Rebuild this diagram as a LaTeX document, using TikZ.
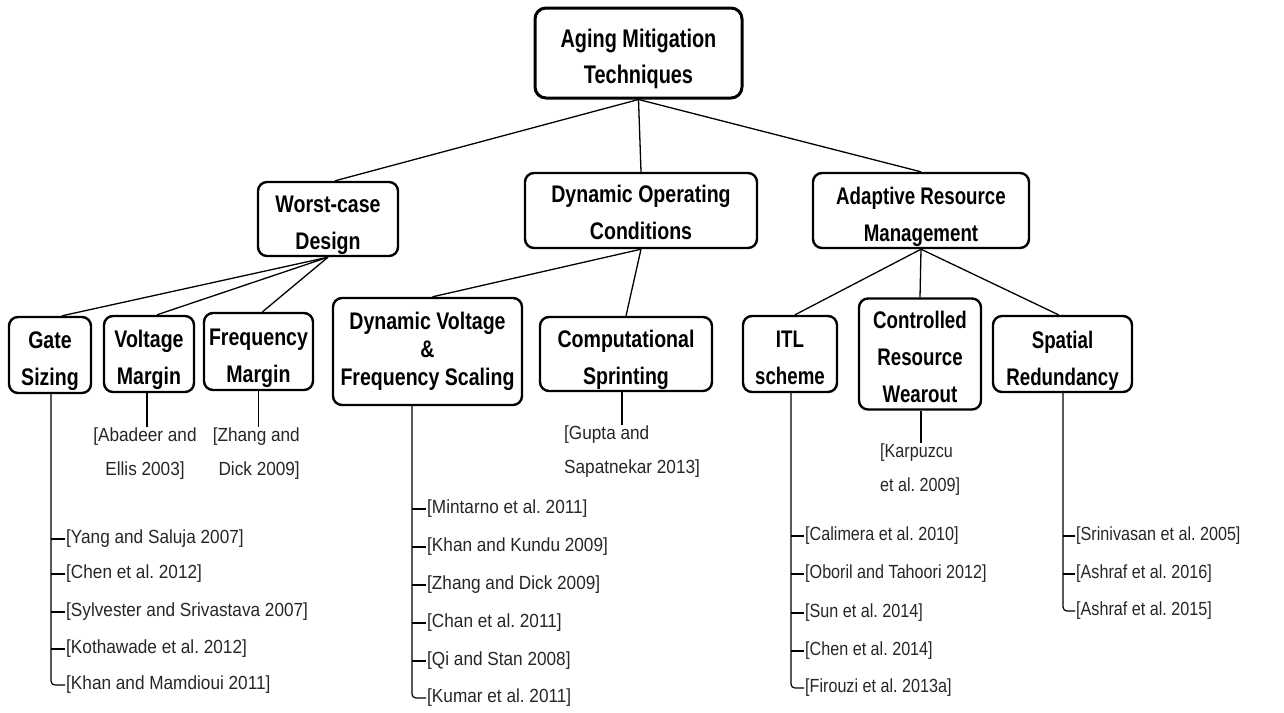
\documentclass[tikz,border=0pt]{standalone}
\usepackage{fontspec}
\setmainfont{Liberation Sans}[FakeStretch=0.815]
\newfontfamily\narrowfont{Liberation Sans}[FakeStretch=0.78]
\newfontfamily\reffont{Liberation Sans}[FakeStretch=0.905]
\newfontfamily\refnarrow{Liberation Sans}[FakeStretch=0.85]
% two-line labels sit a little low in their boxes
\newcommand{\boxlabel}[2][4.5pt]{\raisebox{-#1}[\height][\depth]{\begin{tabular}{@{}c@{}}#2\end{tabular}}}
\begin{document}
\frenchspacing
\begin{tikzpicture}[x=1pt,y=-1pt,
  box/.style={draw, line width=2.4pt, rounded corners=9pt,
    inner sep=0pt, font=\bfseries\fontsize{24}{37}\selectfont},
  boxr/.style={box, font=\narrowfont\bfseries\fontsize{24}{37}\selectfont},
  rootbox/.style={box, line width=3pt, rounded corners=11pt,
    font=\narrowfont\bfseries\fontsize{25.5}{36}\selectfont},
  link/.style={line width=1.3pt},
  leaf/.style={line width=1.2pt},
  refs/.style={font=\reffont\fontsize{19}{34}\selectfont, inner sep=1pt, text=black!85},
  refsr/.style={refs, font=\refnarrow\fontsize{19}{34}\selectfont},
  item/.style={refs, anchor=west},
  itemr/.style={refsr, anchor=west}]
\useasboundingbox (0,0) rectangle (1284,712);

% Level 1
\node[rootbox, minimum width=207, minimum height=90] (root) at (638.5,53)
  {\boxlabel[5pt]{Aging Mitigation\\Techniques}};

% Level 2
\node[box, minimum width=140, minimum height=74] (wcd) at (328,219) {\boxlabel{Worst-case\\Design}};
\node[box, minimum width=232, minimum height=75] (doc) at (641,210.5) {\boxlabel[3.5pt]{Dynamic Operating\\Conditions}};
\node[boxr, minimum width=216, minimum height=75] (arm) at (921,210.5) {\boxlabel[5pt]{Adaptive Resource\\Management}};

% Level 3
\node[box, minimum width=82, minimum height=76] (gate) at (50,355) {\boxlabel{Gate\\Sizing}};
\node[box, minimum width=90, minimum height=76] (vm) at (149,354) {\boxlabel{Voltage\\Margin}};
\node[box, minimum width=109, minimum height=77] (fm) at (258.5,351.5) {\boxlabel[5pt]{Frequency\\Margin}};
\node[box, minimum width=189, minimum height=107, font=\bfseries\fontsize{24}{28}\selectfont]
  (dvfs) at (427.5,351.5) {\boxlabel[0pt]{Dynamic Voltage\\\&\\Frequency Scaling}};
\node[box, minimum width=172, minimum height=74] (cs) at (626,354) {\boxlabel{Computational\\Sprinting}};
\node[boxr, minimum width=94, minimum height=76] (itl) at (790,354) {\boxlabel[5pt]{ITL\\scheme}};
\node[boxr, minimum width=122, minimum height=106] (crw) at (920,354) {\boxlabel[4pt]{Controlled\\Resource\\Wearout}};
\node[boxr, minimum width=139, minimum height=76] (sr) at (1062.5,354) {\boxlabel[5.5pt]{Spatial\\Redundancy}};

% Tree connectors
\draw[link] (root.south) -- ([xshift=7]wcd.north);
\draw[link] (root.south) -- (doc.north);
\draw[link] (root.south) -- (arm.north);
\draw[link] (wcd.south) -- ([xshift=12]gate.north);
\draw[link] (wcd.south) -- ([xshift=8]vm.north);
\draw[link] (wcd.south) -- ([xshift=4]fm.north);
\draw[link] (doc.south) -- ([xshift=5]dvfs.north);
\draw[link] (doc.south) -- (cs.north);
\draw[link] (arm.south) -- ([xshift=5]itl.north);
\draw[link] (arm.south) -- (crw.north);
\draw[link] (arm.south) -- ([xshift=-4]sr.north);

% Single references
\node[refs, align=center] (vmr) at (145,454) {[Abadeer and\\Ellis 2003]};
\node[refs, align=right, anchor=east] (fmr) at (301,454) {[Zhang and\\Dick 2009]};
\node[refs, align=left, anchor=west] (csr) at (563,452) {[Gupta and\\Sapatnekar 2013]};
\node[refsr, align=left, anchor=west] (crwr) at (879,470) {[Karpuzcu\\et al. 2009]};
\draw[leaf] ([xshift=-2]vm.south) -- ([xshift=-2]vm.south |- vmr.north);
\draw[leaf] (fm.south) -- (fm.south |- fmr.north);
\draw[leaf] ([xshift=-4]cs.south) -- ([xshift=-4]cs.south |- csr.north);
\draw[leaf] ([xshift=1]crw.south) -- ([xshift=1]crw.south |- crwr.north);

% Gate sizing references
\coordinate (gs) at ([xshift=1]gate.south);
\node[item] (g1) at (65,539) {[Yang and Saluja 2007]};
\node[item] (g2) at (65,574) {[Chen et al. 2012]};
\node[item] (g3) at (65,612) {[Sylvester and Srivastava 2007]};
\node[item] (g4) at (65,649) {[Kothawade et al. 2012]};
\node[item] (g5) at (65,685) {[Khan and Mamdioui 2011]};
\draw[leaf, rounded corners=4pt] (gs) |- (g5.west);
\foreach \r in {g1,g2,g3,g4} \draw[leaf] (\r.west -| gs) -- (\r.west);

% DVFS references
\coordinate (ds) at ([xshift=-15.5]dvfs.south);
\node[item] (d1) at (426,509) {[Mintarno et al. 2011]};
\node[item] (d2) at (426,547) {[Khan and Kundu 2009]};
\node[item] (d3) at (426,585) {[Zhang and Dick 2009]};
\node[item] (d4) at (426,623) {[Chan et al. 2011]};
\node[item] (d5) at (426,661) {[Qi and Stan 2008]};
\node[item] (d6) at (426,698) {[Kumar et al. 2011]};
\draw[leaf, rounded corners=4pt] (ds) |- (d6.west);
\foreach \r in {d1,d2,d3,d4,d5} \draw[leaf] (\r.west -| ds) -- (\r.west);

% ITL references
\coordinate (is) at ([xshift=1]itl.south);
\node[itemr] (i1) at (804,536) {[Calimera et al. 2010]};
\node[itemr] (i2) at (804,574) {[Oboril and Tahoori 2012]};
\node[itemr] (i3) at (804,613) {[Sun et al. 2014]};
\node[itemr] (i4) at (804,651) {[Chen et al. 2014]};
\node[itemr] (i5) at (804,688) {[Firouzi et al. 2013a]};
\draw[leaf, rounded corners=4pt] (is) |- (i5.west);
\foreach \r in {i1,i2,i3,i4} \draw[leaf] (\r.west -| is) -- (\r.west);

% Spatial redundancy references
\coordinate (ss) at ([xshift=0.5]sr.south);
\node[itemr] (s1) at (1075,536) {[Srinivasan et al. 2005]};
\node[itemr] (s2) at (1075,574) {[Ashraf et al. 2016]};
\node[itemr] (s3) at (1075,611) {[Ashraf et al. 2015]};
\draw[leaf, rounded corners=4pt] (ss) |- (s3.west);
\foreach \r in {s1,s2} \draw[leaf] (\r.west -| ss) -- (\r.west);
\end{tikzpicture}
\end{document}
